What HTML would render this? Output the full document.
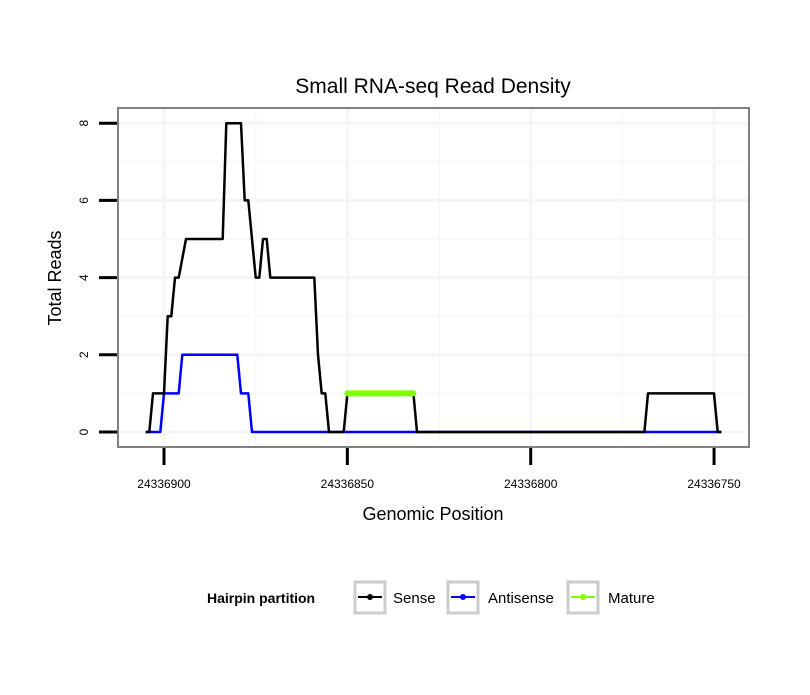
<!DOCTYPE html>
<html><head><meta charset="utf-8"><style>
body{margin:0;background:#fff;font-family:"Liberation Sans",sans-serif}
</style></head><body>
<svg id="chart" width="810" height="690" xmlns="http://www.w3.org/2000/svg" font-family="Liberation Sans, sans-serif">
<rect width="810" height="690" fill="#fff"/>
<text x="433" y="93" font-size="21" text-anchor="middle">Small RNA-seq Read Density</text>
<g id="grid"></g>
<g id="series"></g>
<rect x="118" y="108" width="631" height="339" fill="none" stroke="#808080" stroke-width="2"/>
<g id="axes"></g>
<text x="433" y="520" font-size="18" text-anchor="middle">Genomic Position</text>
<text transform="translate(61,278) rotate(-90)" font-size="18" text-anchor="middle">Total Reads</text>
<g>
<text x="207" y="603" font-size="14" font-weight="bold">Hairpin partition</text>
<g>
<rect x="355" y="582" width="30" height="31" fill="#fff" stroke="#ccc" stroke-width="3"/>
<line x1="358" y1="597" x2="382" y2="597" stroke="#000" stroke-width="2"/><circle cx="370" cy="597" r="3" fill="#000"/>
<text x="393" y="603" font-size="15">Sense</text></g>
<g>
<rect x="448" y="582" width="30" height="31" fill="#fff" stroke="#ccc" stroke-width="3"/>
<line x1="451" y1="597" x2="475" y2="597" stroke="#00f" stroke-width="2"/><circle cx="463" cy="597" r="3" fill="#00f"/>
<text x="488" y="603" font-size="15">Antisense</text></g>
<g>
<rect x="568" y="582" width="30" height="31" fill="#fff" stroke="#ccc" stroke-width="3"/>
<line x1="571" y1="597" x2="595" y2="597" stroke="#7fff00" stroke-width="2"/><circle cx="583" cy="597" r="3" fill="#7fff00"/>
<text x="608" y="603" font-size="15">Mature</text></g>
</g>
</svg>
<script>
const xTicks=[24336900,24336850,24336800,24336750];
const yTicks=[0,2,4,6,8];
const senseX=[24336905,24336904,24336903,24336900,24336899,24336898,24336897,24336896,24336894,24336884,24336883,24336879,24336878,24336877,24336875,24336874,24336873,24336872,24336871,24336859,24336858,24336857,24336856,24336855,24336851,24336850,24336832,24336831,24336769,24336768,24336750,24336749,24336748];
const senseY=[0,0,1,1,3,3,4,4,5,5,8,8,6,6,4,4,5,5,4,4,2,1,1,0,0,1,1,0,0,1,1,0,0];
const antiX=[24336905,24336901,24336900,24336896,24336895,24336880,24336879,24336877,24336876,24336748];
const antiY=[0,0,1,1,2,2,1,1,0,0];
const matureX=[24336850,24336832];
const matureY=[1,1];
const NS="http://www.w3.org/2000/svg";
function sx(g){return 164+(24336900-g)*3.667;}
function sy(v){return 432-v*38.6;}
function mk(tag,attrs,parent){const e=document.createElementNS(NS,tag);for(const k in attrs)e.setAttribute(k,attrs[k]);parent.appendChild(e);return e;}
const grid=document.getElementById('grid'),axes=document.getElementById('axes'),ser=document.getElementById('series');
for(let i=0;i<xTicks.length;i++){
  const x=sx(xTicks[i]);
  const gl=mk('line',{x1:x,x2:x,y1:109,y2:446,stroke:'#f5f5f5','stroke-width':3},grid);
  
  
  if(i<xTicks.length-1){const xm=sx((xTicks[i]+xTicks[i+1])/2);
    const ml=mk('line',{x1:xm,x2:xm,y1:109,y2:446,stroke:'#f9f9f9','stroke-width':2},grid);
    
    }
  const t=mk('line',{x1:x,x2:x,y1:448,y2:465,stroke:'#000','stroke-width':3},axes);
  
  
  const l=mk('text',{x:x,y:488,'font-size':12,'text-anchor':'middle'},axes);l.textContent=xTicks[i];
  
  
}
for(let i=0;i<yTicks.length;i++){
  const y=sy(yTicks[i]);
  const gl=mk('line',{x1:119,x2:748,y1:y,y2:y,stroke:'#f5f5f5','stroke-width':3},grid);
  
  
  if(i<yTicks.length-1){const ym=sy((yTicks[i]+yTicks[i+1])/2);
    const ml=mk('line',{x1:119,x2:748,y1:ym,y2:ym,stroke:'#f9f9f9','stroke-width':2},grid);
    
    }
  const t=mk('line',{x1:99,x2:117,y1:y,y2:y,stroke:'#000','stroke-width':3},axes);
  
  
  const l=mk('text',{transform:`translate(88,${y}) rotate(-90)`,'font-size':12,'text-anchor':'middle'},axes);l.textContent=yTicks[i];
  
  
}
function line(xs,ys,color,w,name){
  const p=xs.map((g,i)=>sx(g).toFixed(1)+','+sy(ys[i]).toFixed(1)).join(' ');
  const e=mk('polyline',{points:p,fill:'none',stroke:color,'stroke-width':w,'stroke-linejoin':'round','stroke-linecap':w>3?'round':'butt'},ser);
  
  
}
line(antiX,antiY,'#0000ff',2.5,'antisense-line');
line(senseX,senseY,'#000',2.5,'sense-line');
line(matureX,matureY,'#7fff00',6,'mature-line');
</script>
</body></html>
